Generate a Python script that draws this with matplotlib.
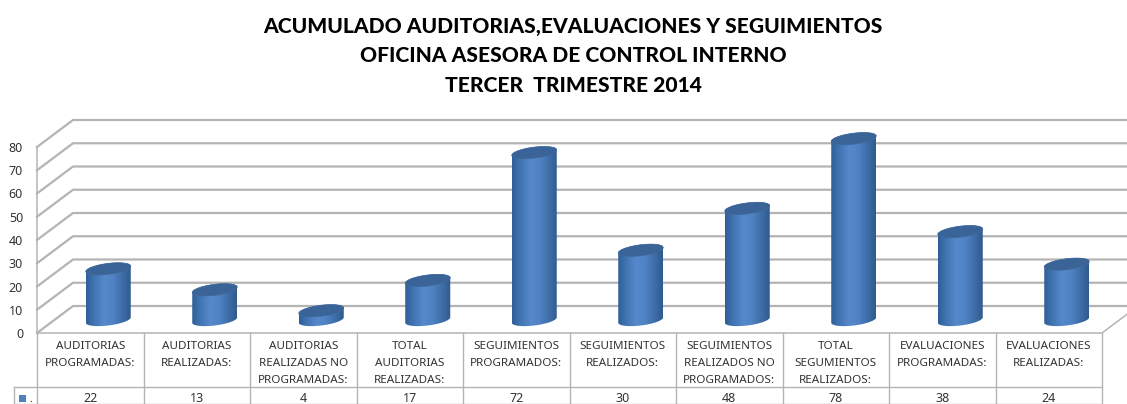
import matplotlib
matplotlib.use('Agg')
import matplotlib.pyplot as plt
import numpy as np
from matplotlib.colors import LinearSegmentedColormap
from matplotlib.patches import Polygon, Rectangle

categories = ['AUDITORIAS\nPROGRAMADAS:', 'AUDITORIAS\nREALIZADAS:',
              'AUDITORIAS\nREALIZADAS NO\nPROGRAMADAS:', 'TOTAL\nAUDITORIAS\nREALIZADAS:',
              'SEGUIMIENTOS\nPROGRAMADOS:', 'SEGUIMIENTOS\nREALIZADOS:',
              'SEGUIMIENTOS\nREALIZADOS NO\nPROGRAMADOS:', 'TOTAL\nSEGUMIENTOS\nREALIZADOS:',
              'EVALUACIONES\nPROGRAMADAS:', 'EVALUACIONES\nREALIZADAS:']
values = [22, 13, 4, 17, 72, 30, 48, 78, 38, 24]
yticks = [0, 10, 20, 30, 40, 50, 60, 70, 80]
title_lines = ['ACUMULADO AUDITORIAS,EVALUACIONES Y SEGUIMIENTOS',
               'OFICINA ASESORA DE CONTROL INTERNO',
               'TERCER  TRIMESTRE 2014']

W, H = 1127, 404
LEFT, RIGHT, BASE, TOP = 37, 1102, 333, 147
DEPTH_X, DEPTH_Y = 36, 27
PX_X = (RIGHT - LEFT) / len(values)
PX_Y = (BASE - TOP) / 80
GRID = '#b4b4b4'
TEXT = '#333333'
FONT = 'Noto Sans'


def dx(px):
    return px / PX_X


def dy(px):
    return px / PX_Y


def ellipse(x, y, start, stop, a=22.5, b=5.5, tilt=0.12):
    t = np.linspace(start, stop, 60)
    ex = a * np.cos(t)
    ey = b * np.sin(t) + tilt * ex
    return np.column_stack([x + dx(ex), y + dy(ey)])


fig = plt.figure(figsize=(W / 100, H / 100), dpi=100, facecolor='white')
ax = fig.add_axes([LEFT / W, (H - BASE) / H, (RIGHT - LEFT) / W, (BASE - TOP) / H])
ax.set_facecolor('none')
ax.set_xlim(-0.5, len(values) - 0.5)
ax.set_ylim(0, 80)

for sp in ['top', 'right']:
    ax.spines[sp].set_visible(False)
for sp in ['left', 'bottom']:
    ax.spines[sp].set_color(GRID)
    ax.spines[sp].set_linewidth(1.1)

ax.set_yticks(yticks)
ax.set_yticklabels([str(v) for v in yticks], fontsize=9, color=TEXT, family=FONT)
ax.set_xticks(range(len(values)))
ax.set_xticklabels(categories, fontsize=8.4, color=TEXT, family=FONT, linespacing=1.75, va='top')
ax.tick_params(axis='y', length=0, pad=10)
ax.tick_params(axis='x', length=0, pad=6)

# back wall and side wall
x0, x1 = -0.5, len(values) - 0.5
for v in yticks:
    ax.plot([x0, x0 + dx(DEPTH_X), x1 + dx(DEPTH_X)],
            [v, v + dy(DEPTH_Y), v + dy(DEPTH_Y)],
            color=GRID, lw=1.6, clip_on=False, zorder=1, solid_joinstyle='miter')
ax.plot([x1, x1 + dx(DEPTH_X)], [0, dy(DEPTH_Y)], color=GRID, lw=1.1, clip_on=False, zorder=1)

# cylinders
cmap = LinearSegmentedColormap.from_list('cyl', ['#2f5f98', '#4376b4', '#5589cb', '#5083c4', '#3f6fa9', '#2f5a8e'])
grad = np.linspace(0, 1, 128).reshape(1, -1)
for i, v in enumerate(values):
    xc = i + dx(18)
    yb = dy(13)
    yt = yb + v
    hw = dx(22.5)
    lower = ellipse(xc, yb, np.pi, 2 * np.pi)
    upper = ellipse(xc, yt, 0, np.pi)
    body = Polygon(np.vstack([lower, upper]), closed=True, fc='none', ec='none', transform=ax.transData)
    ax.add_patch(body)
    im = ax.imshow(grad, cmap=cmap, aspect='auto', zorder=3, interpolation='bilinear',
                   extent=[xc - hw, xc + hw, yb - dy(9), yt + dy(6)])
    im.set_clip_box(fig.bbox)
    im.set_clip_path(body)
    ax.add_patch(Polygon(ellipse(xc, yt, 0, 2 * np.pi), closed=True, fc='#3a6497', ec='#40699c',
                         lw=0.5, zorder=4, clip_on=False))
ax.set_xlim(-0.5, len(values) - 0.5)
ax.set_ylim(0, 80)

# data table under the axis
row1, row3 = dy(-54), dy(-71)
for i in range(len(values) + 1):
    ax.plot([x0 + i, x0 + i], [0, row3], color=GRID, lw=1.0, clip_on=False, zorder=1)
ax.plot([x0 - dx(23), x1], [row1, row1], color=GRID, lw=1.0, clip_on=False)
ax.plot([x0 - dx(23), x1], [row3, row3], color=GRID, lw=1.0, clip_on=False)
ax.plot([x0 - dx(23), x0 - dx(23)], [row1, row3], color=GRID, lw=1.0, clip_on=False)
for i, v in enumerate(values):
    ax.text(i, dy(-65), str(v), ha='center', va='center', fontsize=9, color=TEXT, family=FONT, clip_on=False)
ax.add_patch(Rectangle((x0 - dx(18), dy(-69)), dx(7), dy(7), fc='#4f81bd', ec='none', clip_on=False))
ax.text(x0 - dx(6), dy(-66), '.', ha='center', va='center', fontsize=8, color=TEXT, family=FONT, clip_on=False)

for line, y in zip(title_lines, [26, 55, 85]):
    fig.text(573 / W, 1 - y / H, line, ha='center', va='center', fontsize=15.1,
             fontweight='black', color='black', family='Lato')

fig.savefig('out.png', dpi=100)
